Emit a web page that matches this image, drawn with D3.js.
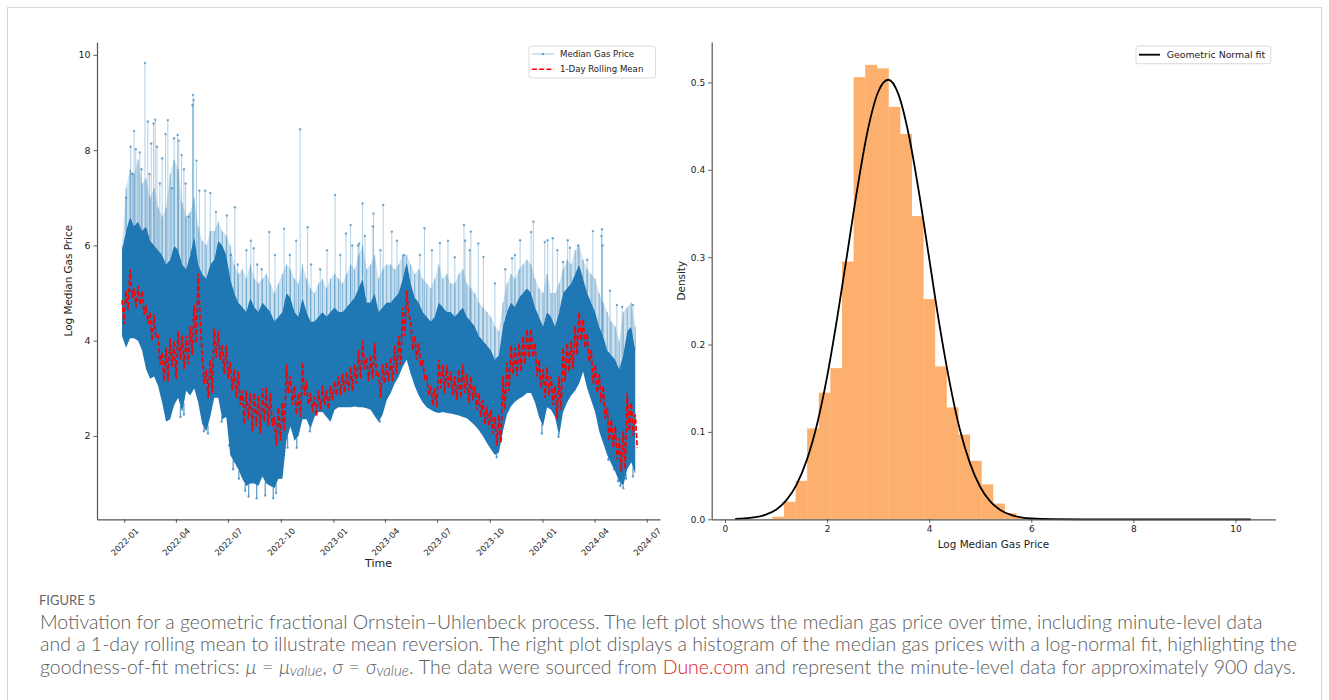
<!DOCTYPE html>
<html>
<head>
<meta charset="utf-8">
<script src="https://cdn.jsdelivr.net/npm/d3@7"></script>
<style>
body { margin: 0; background: #fff; }
svg { display: block; }
</style>
</head>
<body>
<svg id="fig" width="1329" height="700"></svg>
<script>
// ---- left plot: weekly summary of the minute-level series ----
var weekStart = "2021-12-28";
var lowEdge = [4.1, 3.85, 4.05, 4.05, 4.0, 3.8, 3.4, 3.2, 3.25, 3.05,
    2.7, 2.3, 2.35, 2.65, 2.8, 2.5, 2.95, 2.85, 3.0, 2.7,
    2.25, 2.1, 2.4, 2.8, 2.8, 2.35, 2.4, 1.6, 1.45, 1.3,
    1.1, 0.95, 1.0, 1.0, 0.95, 1.15, 1.0, 0.95, 0.9, 1.1,
    1.1, 1.9, 2.2, 1.9, 2.0, 2.35, 2.35, 2.15, 2.4, 2.5,
    2.5, 2.4, 2.3, 2.55, 2.6, 2.6, 2.6, 2.6, 2.62, 2.6,
    2.6, 2.58, 2.55, 2.42, 2.3, 2.45, 2.75, 2.9, 3.1, 3.25,
    3.45, 3.6, 3.3, 3.05, 2.85, 2.7, 2.6, 2.55, 2.5, 2.48,
    2.5, 2.48, 2.47, 2.45, 2.43, 2.4, 2.37, 2.3, 2.22, 2.12,
    2.0, 1.85, 1.72, 1.6, 1.65, 2.1, 2.45, 2.62, 2.72, 2.78,
    2.83, 2.9, 2.9, 2.7, 2.4, 2.2, 2.6, 2.55, 2.4, 2.0,
    2.5, 2.7, 2.85, 2.95, 3.1, 3.35, 3.0, 2.75, 2.5, 2.1,
    1.85, 1.6, 1.42, 1.25, 1.05, 0.95, 1.3, 1.45, 1.2];
var denseTop = [5.9, 6.3, 6.6, 6.4, 6.5, 6.3, 6.4, 6.1, 6.0, 5.9,
    5.8, 5.6, 5.7, 6.0, 5.9, 5.6, 5.5, 5.8, 6.2, 5.6,
    5.4, 5.3, 5.6, 5.7, 6.1, 6.0, 5.8, 5.3, 5.0, 4.8,
    4.7, 4.6, 4.9, 4.7, 4.6, 4.8, 4.7, 4.6, 4.4, 4.5,
    4.6, 5.0, 4.9, 4.6, 4.5, 4.9, 4.6, 4.4, 4.4, 4.5,
    4.6, 4.5, 4.6, 4.7, 4.6, 4.6, 4.7, 4.8, 4.9, 5.1,
    5.3, 4.8, 4.8, 5.0, 4.6, 4.7, 4.8, 4.8, 4.9, 5.0,
    5.3, 5.65, 5.2, 4.9, 4.8, 4.6, 4.5, 4.4, 4.5, 4.8,
    4.7, 4.6, 4.6, 4.5, 4.6, 4.7, 4.5, 4.4, 4.3, 4.1,
    4.0, 3.9, 3.8, 3.6, 3.7, 4.3, 4.6, 4.8, 4.7, 4.9,
    5.0, 5.1, 5.0, 4.7, 4.5, 4.3, 4.6, 4.5, 4.3, 4.6,
    5.0, 5.1, 5.2, 5.4, 5.6, 5.3, 5.0, 4.8, 4.6, 4.3,
    4.1, 3.8, 3.7, 3.6, 3.4, 3.7, 4.2, 4.3, 3.8];
var fringeTop = [6.0, 7.2, 7.6, 7.5, 7.8, 7.3, 7.4, 7.0, 7.2, 6.8,
    6.6, 6.8, 7.5, 7.8, 7.6, 6.9, 6.6, 6.7, 7.0, 6.4,
    6.1, 6.0, 6.3, 6.3, 6.5, 6.3, 6.2, 6.0, 5.6, 5.4,
    5.5, 5.3, 5.6, 5.3, 5.2, 5.3, 5.4, 5.2, 5.0, 5.2,
    5.4, 5.6, 5.5, 5.3, 5.2, 5.6, 5.3, 5.1, 5.0, 5.2,
    5.3, 5.1, 5.3, 5.4, 5.3, 5.2, 5.4, 5.6, 5.5, 5.8,
    6.0, 5.5, 5.6, 5.8, 5.3, 5.5, 5.6, 5.6, 5.5, 5.6,
    5.8, 5.8, 5.6, 5.4, 5.5, 5.3, 5.2, 5.1, 5.3, 5.6,
    5.3, 5.4, 5.2, 5.2, 5.4, 5.5, 5.2, 5.1, 5.0, 4.8,
    4.7, 4.6, 4.5, 4.3, 4.2, 4.8, 5.2, 5.4, 5.3, 5.5,
    5.6, 5.7, 5.6, 5.3, 5.1, 5.0, 5.4, 5.0, 5.0, 5.2,
    5.5, 5.7, 5.6, 5.9, 6.0, 5.7, 5.5, 5.4, 5.3, 5.0,
    4.8, 4.6, 4.4, 4.3, 4.0, 4.6, 4.7, 4.8, 4.3];
var rollMean = [4.6, 4.85, 5.2, 4.9, 4.95, 4.8, 4.55, 4.3, 4.3, 3.8,
    3.45, 3.5, 3.75, 3.6, 3.9, 3.75, 3.8, 4.0, 4.35, 4.9,
    3.4, 3.1, 3.25, 3.95, 3.9, 3.6, 3.55, 3.25, 3.1, 3.0,
    2.6, 2.65, 2.5, 2.55, 2.45, 2.65, 2.62, 2.55, 2.1, 2.25,
    2.4, 3.2, 2.95, 2.75, 2.65, 3.2, 2.9, 2.7, 2.62, 2.75,
    2.85, 2.76, 2.9, 3.0, 3.05, 3.1, 3.15, 3.2, 3.3, 3.5,
    3.7, 3.4, 3.45, 3.6, 3.05, 3.3, 3.35, 3.4, 3.6, 3.8,
    4.4, 4.8, 4.1, 3.85, 3.7, 3.4, 3.05, 2.85, 2.8, 3.3,
    3.2, 3.24, 3.1, 3.0, 3.1, 3.2, 3.0, 3.0, 2.8, 2.65,
    2.5, 2.41, 2.3, 2.1, 2.15, 2.9, 3.24, 3.6, 3.55, 3.65,
    3.8, 3.94, 3.95, 3.6, 3.3, 3.1, 3.15, 2.95, 2.7, 2.9,
    3.5, 3.65, 3.7, 4.0, 4.3, 4.15, 3.85, 3.45, 3.2, 3.0,
    2.7, 2.25, 2.05, 1.85, 1.6, 1.7, 2.5, 2.35, 2.1];
// half-height of the day-to-day swing of the rolling mean within each week
var rollSwing = [0.25, 0.2, 0.3, 0.2, 0.2, 0.25, 0.2, 0.3, 0.25, 0.3,
    0.3, 0.35, 0.3, 0.4, 0.3, 0.35, 0.3, 0.3, 0.4, 0.5,
    0.3, 0.3, 0.35, 0.3, 0.3, 0.3, 0.35, 0.3, 0.3, 0.35,
    0.35, 0.3, 0.4, 0.35, 0.4, 0.35, 0.4, 0.35, 0.3, 0.35,
    0.3, 0.3, 0.3, 0.3, 0.25, 0.35, 0.25, 0.2, 0.2, 0.2,
    0.2, 0.2, 0.15, 0.15, 0.2, 0.2, 0.2, 0.25, 0.2, 0.3,
    0.3, 0.25, 0.25, 0.35, 0.25, 0.2, 0.2, 0.25, 0.3, 0.3,
    0.3, 0.25, 0.3, 0.25, 0.25, 0.2, 0.2, 0.2, 0.2, 0.3,
    0.3, 0.25, 0.25, 0.25, 0.3, 0.3, 0.3, 0.25, 0.25, 0.25,
    0.25, 0.2, 0.25, 0.3, 0.3, 0.35, 0.3, 0.3, 0.3, 0.3,
    0.3, 0.3, 0.3, 0.35, 0.3, 0.3, 0.3, 0.3, 0.35, 0.35,
    0.35, 0.3, 0.3, 0.3, 0.3, 0.3, 0.3, 0.35, 0.3, 0.3,
    0.35, 0.35, 0.3, 0.35, 0.35, 0.4, 0.4, 0.35, 0.35];

// isolated spikes and dips: day offset from 2022-01-01, value
var spikeDays = [3, 11, 14, 17, 20, 27, 30, 36, 41, 44, 47, 51, 54, 57, 62, 66, 72, 76, 83, 87, 93, 95, 100, 104, 107, 112,
    119, 120, 121, 126, 131, 141, 150, 160, 179, 186, 193, 198, 213, 221, 226, 232, 240, 253, 263, 279, 289, 300,
    307, 320, 326, 342, 354, 368, 377, 387, 395, 398, 408, 410, 416, 420, 434, 435, 447, 452, 467, 476, 488,
    516, 524, 537, 551, 565, 577, 593, 595, 603, 605, 618, 627, 647, 665, 677, 682, 691, 710, 714, 734, 739,
    748, 756, 766, 774, 778, 792, 808, 818, 833, 834, 835, 848, 860, 869, 888];
var spikeTops = [7.0, 8.07, 7.5, 8.40, 8.02, 7.95, 7.6, 9.83, 8.6, 7.5, 8.14, 8.56, 8.64, 8.07, 7.3, 7.83, 8.34, 8.63, 7.2, 8.25, 8.32, 8.2, 7.9, 7.6, 7.3, 6.6,
    8.95, 9.16, 9.05, 7.78, 7.15, 7.15, 7.1, 6.7, 6.63, 5.8, 6.8, 5.6, 5.9, 6.1, 5.94, 5.6, 5.5, 6.28, 5.8, 6.35, 5.8, 6.1,
    8.44, 6.38, 5.6, 5.5, 5.9, 7.06, 5.8, 6.25, 6.43, 6.0, 6.0, 6.04, 6.88, 6.2, 6.4, 6.67, 5.9, 6.85, 6.29, 6.1, 5.8,
    5.8, 6.36, 5.9, 6.05, 6.1, 5.75, 6.43, 6.1, 5.9, 6.29, 6.04, 5.76, 5.2, 5.5, 5.73, 5.8, 6.11, 6.28, 6.5, 6.07, 6.11,
    6.15, 5.9, 5.65, 6.11, 5.95, 6.0, 5.7, 6.3, 6.2, 6.34, 6.0, 5.05, 4.75, 4.71, 4.75];
var dipDays = [98, 104, 139, 146, 170, 183, 190, 200, 211, 217, 231, 246, 260, 265, 285, 301, 324, 446, 650, 729, 758, 845, 855, 862, 866, 871, 876, 888];
var dipLows = [2.4, 2.45, 2.1, 2.05, 2.3, 1.8, 1.3, 1.1, 0.85, 0.73, 0.69, 0.75, 0.69, 0.8, 1.75, 1.75, 2.1, 2.3, 1.55, 2.05, 1.98, 1.5, 1.3, 1.05, 0.95, 0.9, 1.1, 1.15];

var timeTicks = ["2022-01", "2022-04", "2022-07", "2022-10", "2023-01", "2023-04", "2023-07", "2023-10", "2024-01", "2024-04", "2024-07"];

// ---- right plot: histogram (40 bins) and fitted curve ----
var binStart = 0.70;
var binWidth = 0.2275;
var binDensity = [0.0005, 0.003, 0.020, 0.044, 0.104, 0.145, 0.173, 0.295, 0.506, 0.520,
    0.516, 0.472, 0.441, 0.347, 0.252, 0.175, 0.128, 0.097, 0.067, 0.040,
    0.018, 0.007, 0.002, 0.001, 0.0006, 0.0004, 0.0003, 0.0002, 0.0002, 0.0001,
    0.0001, 0.0001, 0.0001, 0.0001, 0.0001, 0.0001, 0.0001, 0.0001, 0.0001, 0.0001];
var fitX = [0.2, 0.6, 0.8, 1.0, 1.2, 1.4, 1.6, 1.8, 2.0, 2.2, 2.4, 2.6, 2.8, 3.0, 3.2, 3.4, 3.6, 3.8, 4.0,
    4.2, 4.4, 4.6, 4.8, 5.0, 5.2, 5.4, 5.6, 5.8, 6.0, 6.4, 7.0, 8.0, 9.0, 10.3];
var fitY = [0.0004, 0.0024, 0.0054, 0.011, 0.0216, 0.0394, 0.0674, 0.108, 0.163, 0.231, 0.306, 0.381, 0.446, 0.489, 0.503, 0.486, 0.440, 0.374, 0.2986,
    0.223, 0.157, 0.103, 0.064, 0.037, 0.0202, 0.0104, 0.005, 0.0022, 0.0009, 0.0001, 0, 0, 0, 0];

var tickFont = "DejaVu Sans, sans-serif";
var blue = "#1f77b4";

function draw() {
    var svg = d3.select("#fig");
    svg.append("rect").attr("width", 1329).attr("height", 700).attr("fill", "#fff");
    // page frame
    svg.append("rect").attr("x", 7.5).attr("y", 7.5).attr("width", 1314).attr("height", 720)
        .attr("fill", "none").attr("stroke", "#d8d8d8");

    // ---------- left plot ----------
    var parseDay = d3.utcParse("%Y-%m-%d");
    var t0 = parseDay(weekStart);
    var day0 = parseDay("2022-01-01");
    var weekDates = lowEdge.map(function(v, i) { return d3.utcDay.offset(t0, 7 * i); });
    function dayDate(n) { return new Date(+day0 + n * 864e5); }

    var xL = d3.scaleUtc().domain([dayDate(-47.7), dayDate(935.2)]).range([97, 660]);
    var yL = d3.scaleLinear().domain([0.25, 10.27]).range([519.3, 42]);

    var gL = svg.append("g");

    // light fringe above the dense band
    gL.append("path")
        .datum(weekDates)
        .attr("d", d3.area()
            .x(function(d) { return xL(d); })
            .y0(function(d, i) { return yL(denseTop[i]); })
            .y1(function(d, i) { return yL(fringeTop[i]); }))
        .attr("fill", blue).attr("fill-opacity", 0.22);

    // weekly whiskers through the fringe
    gL.selectAll("line.whisk")
        .data(weekDates)
        .enter()
        .append("line")
        .attr("class", "whisk")
        .attr("x1", function(d) { return xL(d); })
        .attr("x2", function(d) { return xL(d); })
        .attr("y1", function(d, i) { return yL(denseTop[i]); })
        .attr("y2", function(d, i) { return yL(fringeTop[i]); })
        .attr("stroke", blue).attr("stroke-opacity", 0.45).attr("stroke-width", 1);

    // base of spikes comes from the dense band at that day
    var weekDay = weekDates.map(function(d) { return (d - day0) / 864e5; });
    function bandAt(arr, day) {
        var i = d3.bisectLeft(weekDay, day);
        if (i <= 0) return arr[0];
        if (i >= weekDay.length) return arr[arr.length - 1];
        var f = (day - weekDay[i - 1]) / (weekDay[i] - weekDay[i - 1]);
        return arr[i - 1] + f * (arr[i] - arr[i - 1]);
    }

    var spikes = spikeDays.map(function(d, i) { return { day: d, top: spikeTops[i] }; });
    gL.selectAll("line.spike")
        .data(spikes)
        .enter()
        .append("line")
        .attr("class", "spike")
        .attr("x1", function(d) { return xL(dayDate(d.day)); })
        .attr("x2", function(d) { return xL(dayDate(d.day)); })
        .attr("y1", function(d) { return yL(bandAt(denseTop, d.day)); })
        .attr("y2", function(d) { return yL(d.top); })
        .attr("stroke", blue).attr("stroke-opacity", 0.35).attr("stroke-width", 1);
    gL.selectAll("circle.spike")
        .data(spikes)
        .enter()
        .append("circle")
        .attr("class", "spike")
        .attr("cx", function(d) { return xL(dayDate(d.day)); })
        .attr("cy", function(d) { return yL(d.top); })
        .attr("r", 1.2)
        .attr("fill", blue).attr("fill-opacity", 0.6);

    var dips = dipDays.map(function(d, i) { return { day: d, low: dipLows[i] }; });
    gL.selectAll("line.dip")
        .data(dips)
        .enter()
        .append("line")
        .attr("class", "dip")
        .attr("x1", function(d) { return xL(dayDate(d.day)); })
        .attr("x2", function(d) { return xL(dayDate(d.day)); })
        .attr("y1", function(d) { return yL(bandAt(lowEdge, d.day)); })
        .attr("y2", function(d) { return yL(d.low); })
        .attr("stroke", blue).attr("stroke-opacity", 0.7).attr("stroke-width", 1.3);
    gL.selectAll("circle.dip")
        .data(dips)
        .enter()
        .append("circle")
        .attr("class", "dip")
        .attr("cx", function(d) { return xL(dayDate(d.day)); })
        .attr("cy", function(d) { return yL(d.low); })
        .attr("r", 1.2)
        .attr("fill", blue).attr("fill-opacity", 0.6);

    // dense band
    gL.append("path")
        .datum(weekDates)
        .attr("d", d3.area()
            .x(function(d) { return xL(d); })
            .y0(function(d, i) { return yL(lowEdge[i]); })
            .y1(function(d, i) { return yL(denseTop[i]); }))
        .attr("fill", blue);

    // rolling mean: each week swings up then down around its level
    var meanPts = [];
    weekDates.forEach(function(d, i) {
        meanPts.push([d, rollMean[i] + rollSwing[i]]);
        meanPts.push([d3.utcHour.offset(d, 84), rollMean[i] - rollSwing[i]]);
    });
    gL.append("path")
        .datum(meanPts)
        .attr("d", d3.line()
            .x(function(p) { return xL(p[0]); })
            .y(function(p) { return yL(p[1]); }))
        .attr("fill", "none").attr("stroke", "red").attr("stroke-width", 1.7)
        .attr("stroke-dasharray", "5,2.2");

    // axes
    var yAxL = gL.append("g").attr("transform", "translate(97,0)")
        .call(d3.axisLeft(yL).tickValues([2, 4, 6, 8, 10]).tickSize(3.5).tickSizeOuter(0).tickPadding(3));
    var xAxL = gL.append("g").attr("transform", "translate(0,519.3)")
        .call(d3.axisBottom(xL).tickValues(timeTicks.map(function(s) { return parseDay(s + "-01"); }))
            .tickFormat(d3.utcFormat("%Y-%m")).tickSize(3.5).tickSizeOuter(0));
    xAxL.selectAll(".tick text")
        .attr("y", 0).attr("dy", 0)
        .attr("text-anchor", "middle").attr("dominant-baseline", "central")
        .attr("transform", "translate(0,22.5) rotate(-45)")
        .attr("font-size", 8.4);
    yAxL.selectAll(".tick text").attr("font-size", 9.5);

    gL.append("text").text("Time")
        .attr("x", 378.5).attr("y", 563).attr("text-anchor", "middle").attr("dominant-baseline", "central")
        .attr("font-size", 11).attr("font-family", tickFont).attr("fill", "#222");
    gL.append("text").text("Log Median Gas Price")
        .attr("transform", "translate(68,280.7) rotate(-90)")
        .attr("text-anchor", "middle").attr("dominant-baseline", "central")
        .attr("font-size", 10.4).attr("font-family", tickFont).attr("fill", "#222");

    // legend
    var lg = gL.append("g");
    lg.append("rect").attr("x", 529).attr("y", 46).attr("width", 126.5).attr("height", 32).attr("rx", 2.5)
        .attr("fill", "#fff").attr("fill-opacity", 0.8).attr("stroke", "#d0d0d0").attr("stroke-width", 0.8);
    lg.append("line").attr("x1", 532).attr("x2", 554).attr("y1", 54).attr("y2", 54)
        .attr("stroke", blue).attr("stroke-opacity", 0.35).attr("stroke-width", 1.2);
    lg.append("circle").attr("cx", 543).attr("cy", 54).attr("r", 1.3).attr("fill", blue).attr("fill-opacity", 0.6);
    lg.append("line").attr("x1", 532).attr("x2", 554).attr("y1", 69.3).attr("y2", 69.3)
        .attr("stroke", "red").attr("stroke-width", 1.6).attr("stroke-dasharray", "5,2.2");
    lg.append("text").text("Median Gas Price").attr("x", 560).attr("y", 54)
        .attr("dominant-baseline", "central").attr("font-size", 8.6).attr("font-family", tickFont).attr("fill", "#222");
    lg.append("text").text("1-Day Rolling Mean").attr("x", 560).attr("y", 69.3)
        .attr("dominant-baseline", "central").attr("font-size", 8.6).attr("font-family", tickFont).attr("fill", "#222");

    // ---------- right plot ----------
    var xR = d3.scaleLinear().domain([-0.26, 10.78]).range([711.7, 1275.3]);
    var yR = d3.scaleLinear().domain([0, 0.5462]).range([519.3, 42]);
    var gR = svg.append("g");

    var bins = binDensity.map(function(v, i) { return { x0: binStart + i * binWidth, x1: binStart + (i + 1) * binWidth, v: v }; });
    gR.selectAll("rect.bar")
        .data(bins)
        .enter()
        .append("rect")
        .attr("class", "bar")
        .attr("x", function(d) { return xR(d.x0); })
        .attr("width", function(d) { return xR(d.x1) - xR(d.x0) + 0.3; })
        .attr("y", function(d) { return yR(d.v); })
        .attr("height", function(d) { return yR(0) - yR(d.v); })
        .attr("fill", "#fdb06d");

    gR.append("path")
        .datum(fitX)
        .attr("d", d3.line()
            .x(function(d) { return xR(d); })
            .y(function(d, i) { return yR(fitY[i]); })
            .curve(d3.curveMonotoneX))
        .attr("fill", "none").attr("stroke", "#000").attr("stroke-width", 1.8);

    var yAxR = gR.append("g").attr("transform", "translate(711.7,0)")
        .call(d3.axisLeft(yR).tickValues([0, 0.1, 0.2, 0.3, 0.4, 0.5]).tickFormat(d3.format(".1f"))
            .tickSize(3.5).tickSizeOuter(0).tickPadding(3));
    var xAxR = gR.append("g").attr("transform", "translate(0,519.3)")
        .call(d3.axisBottom(xR).tickValues([0, 2, 4, 6, 8, 10]).tickSize(3.5).tickSizeOuter(0).tickPadding(3));
    yAxR.selectAll(".tick text").attr("font-size", 9);
    xAxR.selectAll(".tick text").attr("font-size", 9);

    gR.append("text").text("Log Median Gas Price")
        .attr("x", 993.5).attr("y", 544.3).attr("text-anchor", "middle").attr("dominant-baseline", "central")
        .attr("font-size", 10.4).attr("font-family", tickFont).attr("fill", "#222");
    gR.append("text").text("Density")
        .attr("transform", "translate(681,280.7) rotate(-90)")
        .attr("text-anchor", "middle").attr("dominant-baseline", "central")
        .attr("font-size", 10.4).attr("font-family", tickFont).attr("fill", "#222");

    var rg = gR.append("g");
    rg.append("rect").attr("x", 1136).attr("y", 46).attr("width", 134.7).attr("height", 17.7).attr("rx", 2)
        .attr("fill", "#fff").attr("fill-opacity", 0.8).attr("stroke", "#d0d0d0").attr("stroke-width", 0.8);
    rg.append("line").attr("x1", 1139).attr("x2", 1160).attr("y1", 54.7).attr("y2", 54.7)
        .attr("stroke", "#000").attr("stroke-width", 1.8);
    rg.append("text").text("Geometric Normal fit").attr("x", 1166.7).attr("y", 54.7)
        .attr("dominant-baseline", "central").attr("font-size", 9.4).attr("font-family", tickFont).attr("fill", "#222");

    // shared axis styling
    svg.selectAll(".domain").attr("stroke", "#555").attr("stroke-width", 1.2);
    svg.selectAll(".tick line").attr("stroke", "#333").attr("stroke-width", 0.8);
    svg.selectAll(".tick text").attr("fill", "#222").attr("font-family", tickFont);

    // ---------- caption ----------
    var capFont = "Lato, 'Open Sans', sans-serif";
    svg.append("text").text("FIGURE 5").attr("x", 39).attr("y", 600).attr("dominant-baseline", "central")
        .attr("font-size", 13).attr("font-family", capFont).attr("fill", "#666");

    var lines = [
        "Motivation for a geometric fractional Ornstein\u2013Uhlenbeck process. The left plot shows the median gas price over time, including minute-level data",
        "and a 1-day rolling mean to illustrate mean reversion. The right plot displays a histogram of the median gas prices with a log-normal fit, highlighting the"
    ];
    var capY = [621.7, 643.6, 665.6];
    var capG = svg.append("g").attr("font-family", capFont).attr("fill", "#5b5b5b").attr("font-weight", 300);
    var t1 = capG.append("text").text(lines[0]).attr("x", 40).attr("y", capY[0]).attr("dominant-baseline", "central").attr("font-size", 17);
    var t2 = capG.append("text").text(lines[1]).attr("x", 40).attr("y", capY[1]).attr("dominant-baseline", "central").attr("font-size", 17);
    var w2 = t2.node().getComputedTextLength();
    var fs = 17 * 1258 / w2;
    t1.attr("font-size", fs);
    t2.attr("font-size", fs);

    var t3 = capG.append("text").attr("x", 40).attr("y", capY[2]).attr("dominant-baseline", "central").attr("font-size", fs);
    var parts = [
        ["goodness-of-fit metrics: ", ""], ["\u03bc", "i"], [" = ", ""], ["\u03bc", "i"], ["value", "s"], [", ", ""],
        ["\u03c3", "i"], [" = ", ""], ["\u03c3", "i"], ["value", "s"], [". The data were sourced from ", ""],
        ["Dune.com", "r"], [" and represent the minute-level data for approximately 900 days.", ""]
    ];
    parts.forEach(function(p, i) {
        var ts = t3.append("tspan").text(p[0]);
        if (p[1] === "i") ts.attr("font-style", "italic");
        if (p[1] === "s") ts.attr("font-style", "italic").attr("font-size", fs * 0.78).attr("dy", 4);
        if (p[1] === "r") ts.attr("fill", "#e2231a");
        if (i > 0 && parts[i - 1][1] === "s") ts.attr("dy", -4);
    });
    // stretch the third line's word gaps to the printed line length
    var w3 = t3.node().getComputedTextLength();
    var gaps = 24;
    t3.attr("word-spacing", Math.max(0, (1257 - w3) / gaps));
}

window.onload = draw;
</script>
</body>
</html>
